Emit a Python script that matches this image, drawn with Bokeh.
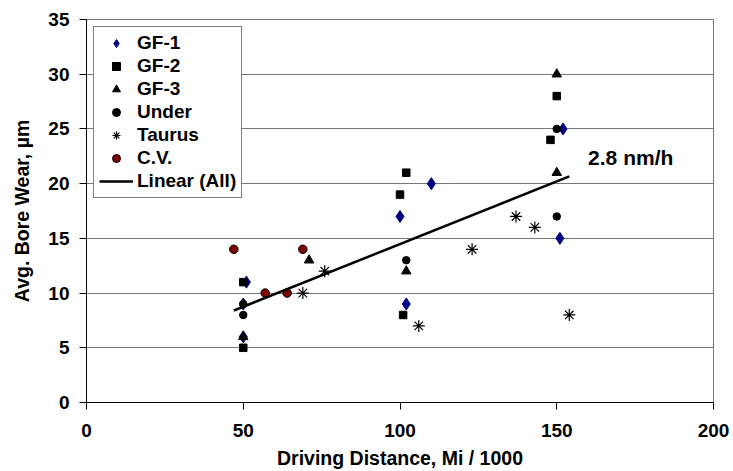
import numpy as np
from bokeh.plotting import figure
from bokeh.models import Range1d, Legend, LegendItem, Label, FixedTicker
from bokeh.embed import file_html
from bokeh.resources import INLINE

# ---- data ----
gf1_x = [51, 50, 50, 100, 102, 110, 151, 152]
gf1_y = [11, 9, 6, 17, 9, 20, 15, 25]
gf2_x = [50, 50, 100, 102, 101, 148, 150]
gf2_y = [11, 5, 19, 21, 8, 24, 28]
gf3_x = [50, 71, 102, 150, 150]
gf3_y = [6, 13, 12, 30, 21]
under_x = [50, 50, 102, 150, 150]
under_y = [9, 8, 13, 25, 17]
taurus_x = [69, 76, 106, 123, 137, 143, 154]
taurus_y = [10, 12, 7, 14, 17, 16, 8]
cv_x = [47, 69, 57, 64]
cv_y = [14, 14, 10, 10]
x_ticks = [0, 50, 100, 150, 200]
y_ticks = [0, 5, 10, 15, 20, 25, 30, 35]
rate_text = "2.8 nm/h"

FONT = "Liberation Sans"

p = figure(width=733, height=471, output_backend="svg", toolbar_location=None,
           x_range=Range1d(0, 200), y_range=Range1d(0, 35),
           min_border_left=86, min_border_right=20, min_border_top=19, min_border_bottom=68)
p.background_fill_color = "white"
p.border_fill_color = "white"
p.outline_line_color = "#777777"
p.outline_line_width = 1

p.xgrid.visible = False
p.ygrid.grid_line_color = "#777777"
p.ygrid.grid_line_width = 1

for ax in (p.xaxis[0], p.yaxis[0]):
    ax.axis_line_color = "black"
    ax.major_tick_line_color = "black"
    ax.major_tick_in = 0
    ax.major_tick_out = 7
    ax.minor_tick_line_color = None
    ax.major_label_text_font = FONT
    ax.major_label_text_font_style = "bold"
    ax.major_label_text_font_size = "19px"
    ax.major_label_text_color = "black"
    ax.axis_label_text_font = FONT
    ax.axis_label_text_font_style = "bold"
    ax.axis_label_text_font_size = "19.5px"
    ax.axis_label_text_color = "black"

p.xaxis.ticker = FixedTicker(ticks=x_ticks)
p.yaxis.ticker = FixedTicker(ticks=y_ticks)
p.xaxis.major_label_standoff = 14
p.yaxis.major_label_standoff = 10
p.xaxis.axis_label = "Driving Distance, Mi / 1000"
p.yaxis.axis_label = "Avg. Bore Wear, \u00b5m"
p.xaxis.axis_label_standoff = 7
p.yaxis.axis_label_standoff = 12

# trend line through all points
all_x = np.array(gf1_x + gf2_x + gf3_x + under_x + taurus_x + cv_x, dtype=float)
all_y = np.array(gf1_y + gf2_y + gf3_y + under_y + taurus_y + cv_y, dtype=float)
m, b = np.polyfit(all_x, all_y, 1)
tx = np.array([all_x.min(), all_x.max()])
ty = m * tx + b

r1 = p.scatter(gf1_x, gf1_y, marker="diamond", size=12, fill_color="#000080", line_color="#000080")
r2 = p.scatter(gf2_x, gf2_y, marker="square", size=7.5, fill_color="black", line_color="black")
r3 = p.scatter(gf3_x, gf3_y, marker="triangle", size=9.5, fill_color="black", line_color="black")
r4 = p.scatter(under_x, under_y, marker="circle", size=7.5, fill_color="black", line_color="black")
r5 = p.scatter(taurus_x, taurus_y, marker="asterisk", size=12, fill_color=None, line_color="black", line_width=1.2)
r6 = p.scatter(cv_x, cv_y, marker="circle", size=8.5, fill_color="#800000", line_color="black", line_width=1)
r7 = p.line(tx, ty, line_color="black", line_width=2.5)

p.add_layout(Label(x=160, y=22.4, text=rate_text, text_font=FONT, text_font_style="bold",
                   text_font_size="21px", text_baseline="middle", text_align="left", text_color="black"))

legend = Legend(items=[
    LegendItem(label="GF-1", renderers=[r1]),
    LegendItem(label="GF-2", renderers=[r2]),
    LegendItem(label="GF-3", renderers=[r3]),
    LegendItem(label="Under", renderers=[r4]),
    LegendItem(label="Taurus", renderers=[r5]),
    LegendItem(label="C.V.", renderers=[r6]),
    LegendItem(label="Linear (All)", renderers=[r7]),
], location="top_left")
legend.margin = 7
legend.padding = 5
legend.spacing = 1
legend.glyph_width = 34
legend.glyph_height = 20
legend.label_height = 20
legend.label_standoff = 4
legend.label_text_font = FONT
legend.label_text_font_style = "bold"
legend.label_text_font_size = "19px"
legend.label_text_color = "black"
legend.border_line_color = "black"
legend.border_line_width = 1
legend.background_fill_color = "white"
legend.background_fill_alpha = 1
p.add_layout(legend, "center")

open("out.html", "w").write(file_html(p, INLINE))
